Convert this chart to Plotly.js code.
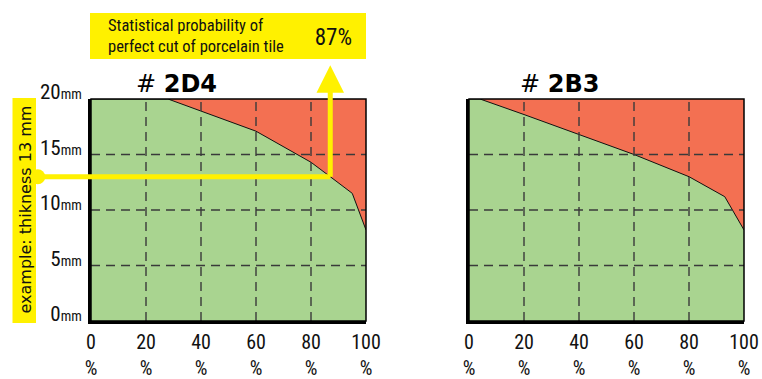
<!DOCTYPE html>
<html>
<head>
<meta charset="utf-8">
<script src="https://cdn.plot.ly/plotly-3.0.1.min.js"></script>
<style>
html,body{margin:0;padding:0;background:#fff;}
#chart{width:762px;height:379px;}
#chart .xtick text, #chart .x2tick text, #chart .ytick text,
#chart g.annotation[data-index="2"] text, #chart g.annotation[data-index="3"] text{font-stretch:condensed !important;}
</style>
</head>
<body>
<div id="chart"></div>
<script>
// ---- data ----
const titles = ['2D4', '2B3'];
const pct2D4 = [0, 28, 60, 80, 87, 95, 100];
const mm2D4  = [20, 20, 17.1, 14.3, 13, 11.5, 8.2];
const pct2B3 = [0, 4, 20, 60, 80, 93, 100];
const mm2B3  = [20, 20, 18.6, 15, 13, 11.2, 8.2];
const xTicks = [0, 20, 40, 60, 80, 100];
const xTickText = ['0<br>%', '20<br>%', '40<br>%', '60<br>%', '80<br>%', '100<br>%'];
const yTicks = [0, 5, 10, 15, 20];
const yTickNums = ['0', '5', '10', '15', '20'];
const yUnit = 'mm';
const examplePct = 87;
const exampleMm = 13;
const boxText = 'Statistical probability of<br>perfect cut of porcelain tile';
const boxValue = '87%';
const sideText = 'example: thikness 13 mm';

// ---- style ----
const GREEN = '#a9d490', RED = '#f37052', YELLOW = '#fff100', GRID = '#3a3a3a';
const COND = 'Roboto, sans-serif';
const W = 762, H = 379;
const px = v => v / W, py = v => 1 - v / H;

const yTickText = yTickNums.map(n => n + '<span style="font-size:14px">' + yUnit + '</span>');

function areaTrace(x, y, xa, ya) {
  return {
    type: 'scatter', mode: 'lines', x: x, y: y, xaxis: xa, yaxis: ya,
    fill: 'tozeroy', fillcolor: GREEN,
    line: {color: '#111', width: 1}, hoverinfo: 'skip', showlegend: false
  };
}

const data = [
  areaTrace(pct2D4, mm2D4, 'x', 'y'),
  areaTrace(pct2B3, mm2B3, 'x2', 'y2')
];

const baseX = {
  range: [0, 100], tickvals: xTicks, ticktext: xTickText, showgrid: false, zeroline: false,
  showline: true, linewidth: 3, linecolor: '#000', ticks: '', fixedrange: true,
  ticklabeloverflow: 'allow', ticklabelstandoff: 1,
  tickfont: {family: COND, size: 20, color: '#111'}
};
const baseY = {
  range: [0, 20], tickvals: yTicks, ticktext: yTickText, showgrid: false, zeroline: false,
  showline: true, linewidth: 3, linecolor: '#000', ticks: '', fixedrange: true,
  ticklabeloverflow: 'allow',
  tickfont: {family: COND, size: 21, color: '#111'}
};

const shapes = [];
// yellow boxes
shapes.push({type: 'rect', xref: 'paper', yref: 'paper', x0: px(90), x1: px(366), y0: py(59), y1: py(13),
  fillcolor: YELLOW, line: {width: 0}});
shapes.push({type: 'rect', xref: 'paper', yref: 'paper', x0: px(12.5), x1: px(36), y0: py(323), y1: py(98),
  fillcolor: YELLOW, line: {width: 0}});

[['x', 'y'], ['x2', 'y2']].forEach(([xa, ya]) => {
  xTicks.slice(1, -1).forEach(v => shapes.push({type: 'line', layer: 'above', xref: xa, yref: ya + ' domain',
    x0: v, x1: v, y0: 0, y1: 1, line: {color: GRID, width: 1.4, dash: '9px,6px'}}));
  yTicks.slice(1, -1).forEach(v => shapes.push({type: 'line', layer: 'above', xref: xa + ' domain', yref: ya,
    x0: 0, x1: 1, y0: v, y1: v, line: {color: GRID, width: 1.4, dash: '9px,6px'}}));
  shapes.push({type: 'rect', layer: 'above', xref: xa + ' domain', yref: ya + ' domain',
    x0: 0, x1: 1, y0: 0, y1: 1, line: {color: '#000', width: 1.5}});
});

const C = {xanchor: 'center', yanchor: 'middle', showarrow: false, xref: 'paper', yref: 'paper'};
const annotations = [
  Object.assign({}, C, {x: px(176), y: py(84), text: '# <b>' + titles[0] + '</b>',
   font: {family: 'DejaVu Sans', size: 24, color: '#000'}}),
  Object.assign({}, C, {x: px(559), y: py(84), text: '# <b>' + titles[1] + '</b>',
   font: {family: 'DejaVu Sans', size: 24, color: '#000'}}),
  Object.assign({}, C, {x: px(106), xanchor: 'left', y: py(36), text: boxText, align: 'left',
   font: {family: COND, size: 16.5, color: '#111'}}),
  Object.assign({}, C, {x: px(333), y: py(37), text: boxValue,
   font: {family: COND, size: 23, color: '#111'}}),
  Object.assign({}, C, {x: px(24.5), y: py(210), text: sideText, textangle: -90,
   font: {family: 'DejaVu Sans', size: 16, color: '#111'}}),
  // horizontal arrow line from side box to the curve
  {xref: 'x', yref: 'y', x: examplePct, y: exampleMm, text: '', showarrow: true,
   axref: 'pixel', ayref: 'pixel', ax: -294, ay: 0, arrowhead: 0, arrowside: 'start',
   startarrowhead: 6, startarrowsize: 0.75, arrowwidth: 5, arrowcolor: YELLOW, standoff: 0, startstandoff: 0},
  // vertical arrow up to the probability box
  {xref: 'x', yref: 'y', x: examplePct, y: exampleMm, text: '', showarrow: true,
   axref: 'pixel', ayref: 'pixel', ax: 0, ay: -113, arrowside: 'start',
   startarrowhead: 2, startarrowsize: 1.1, arrowwidth: 5, arrowcolor: YELLOW, standoff: 0, startstandoff: 0}
];

const layout = {
  width: W, height: H, margin: {l: 0, r: 0, t: 0, b: 0},
  paper_bgcolor: '#fff', plot_bgcolor: RED, showlegend: false,
  xaxis: Object.assign({}, baseX, {domain: [px(91), px(366)], anchor: 'y'}),
  yaxis: Object.assign({}, baseY, {domain: [py(321), py(99)], anchor: 'x', ticklabelshift: -7, ticklabelstandoff: 2}),
  xaxis2: Object.assign({}, baseX, {domain: [px(469), px(744)], anchor: 'y2'}),
  yaxis2: Object.assign({}, baseY, {domain: [py(321), py(99)], anchor: 'x2', showticklabels: false}),
  shapes: shapes, annotations: annotations
};

Plotly.newPlot('chart', data, layout, {staticPlot: true, displayModeBar: false});
</script>
</body>
</html>
